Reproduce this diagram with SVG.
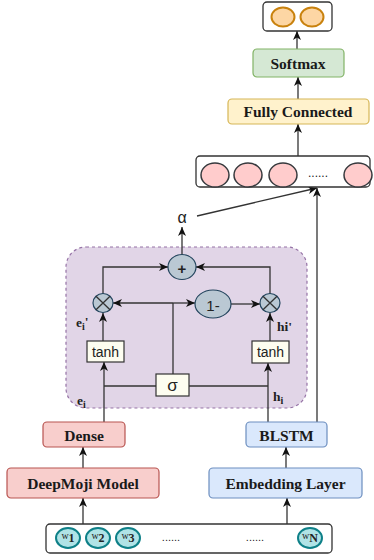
<svg xmlns="http://www.w3.org/2000/svg" width="374" height="560" viewBox="0 0 374 560">
<style>
.b{font-family:"Liberation Serif","Times New Roman",serif;font-weight:bold;font-size:15.5px;fill:#1a1a1a;text-anchor:middle;dominant-baseline:central}
.s{font-family:"Liberation Sans",Arial,sans-serif;fill:#222;text-anchor:middle;dominant-baseline:central}
.lbl{font-family:"Liberation Serif","Times New Roman",serif;font-weight:bold;font-size:13.5px;fill:#222}
.w{font-family:"Liberation Serif","Times New Roman",serif;fill:#222;text-anchor:middle}
.ln{fill:none;stroke:#333;stroke-width:1.3}
.arr{fill:none;stroke:#333;stroke-width:1.3;marker-end:url(#ah)}
.op{fill:#bac8d3;stroke:#23445d;stroke-width:1.2}
.tb{fill:#fdfdf0;stroke:#333;stroke-width:1.2}
.vc{fill:#ffcccc;stroke:#36393d;stroke-width:1.5}
.wc{fill:#b0e3e6;stroke:#0e8088;stroke-width:2}
.oc{fill:#fdd6a4;stroke:#c9820e;stroke-width:2}
</style>
<defs>
<marker id="ah" markerUnits="userSpaceOnUse" markerWidth="10" markerHeight="10" viewBox="0 0 10 8" refX="9" refY="4" orient="auto">
<path d="M0,0 L9,4 L0,8 L2.5,4 z" fill="#111"/>
</marker>
</defs>
<rect width="374" height="560" fill="#fff"/>

<g id="attention-block">
<rect x="66" y="247" width="241" height="161" rx="20" fill="#e1d5e7" stroke="#9673a6" stroke-width="1.2" stroke-dasharray="3,3"/>
</g>

<g id="connectors">
<line class="arr" x1="297" y1="49" x2="297" y2="31"/>
<line class="arr" x1="298" y1="99" x2="298" y2="77"/>
<line class="arr" x1="298" y1="156" x2="298" y2="124"/>
<line class="arr" x1="197" y1="216" x2="317" y2="188"/>
<line class="arr" x1="317" y1="422" x2="317" y2="188"/>
<line class="arr" x1="182" y1="255" x2="182" y2="227"/>
<polyline class="arr" points="103,294 103,267 168,267"/>
<polyline class="arr" points="270,294 270,267 196,267"/>
<line class="arr" x1="173" y1="303" x2="113" y2="303"/>
<line class="arr" x1="173" y1="303" x2="195" y2="303"/>
<line class="ln" x1="173" y1="374" x2="173" y2="303"/>
<line class="arr" x1="231" y1="304" x2="260" y2="304"/>
<line class="arr" x1="103" y1="341" x2="103" y2="313"/>
<line class="arr" x1="270" y1="341" x2="270" y2="313"/>
<line class="arr" x1="104" y1="422" x2="104" y2="362"/>
<line class="arr" x1="268" y1="422" x2="268" y2="363"/>
<line class="ln" x1="104" y1="386" x2="156" y2="386"/>
<line class="ln" x1="189" y1="386" x2="268" y2="386"/>
<line class="arr" x1="83" y1="468" x2="83" y2="447"/>
<line class="arr" x1="286" y1="468" x2="286" y2="447"/>
<line class="arr" x1="83" y1="524" x2="83" y2="498"/>
<line class="arr" x1="287" y1="524" x2="287" y2="498"/>
</g>

<g id="output">
<rect x="263" y="2" width="69" height="29" rx="4" fill="#fff" stroke="#333" stroke-width="1.3"/>
<ellipse class="oc" cx="283" cy="17" rx="11.5" ry="9.5"/>
<ellipse class="oc" cx="312" cy="17" rx="11.5" ry="9.5"/>
</g>

<g id="softmax">
<rect x="253" y="49" width="91" height="28" rx="4" fill="#d5e8d4" stroke="#82b366" stroke-width="1.2"/>
<text class="b" x="298" y="63">Softmax</text>
</g>

<g id="fully-connected">
<rect x="228" y="99" width="141" height="25" rx="4" fill="#fff2cc" stroke="#d6b656" stroke-width="1.2"/>
<text class="b" x="298" y="111.5">Fully Connected</text>
</g>

<g id="vector">
<rect x="196" y="156" width="174" height="31" rx="4" fill="#fff" stroke="#333" stroke-width="1.3"/>
<ellipse class="vc" cx="215" cy="175" rx="14" ry="12"/>
<ellipse class="vc" cx="248" cy="175" rx="14" ry="12"/>
<ellipse class="vc" cx="283" cy="175" rx="14" ry="12"/>
<ellipse class="vc" cx="358" cy="175" rx="14" ry="12"/>
<text class="s" x="318" y="173" font-size="12">......</text>
</g>

<g id="alpha">
<text class="s" x="182" y="217" font-size="16">α</text>
</g>

<g id="plus">
<ellipse class="op" cx="182" cy="267" rx="14" ry="12.5"/>
<text class="s" x="182" y="268" font-size="15" font-weight="bold">+</text>
</g>

<g id="mult-left">
<ellipse class="op" cx="103" cy="303" rx="10" ry="9.5"/>
<path class="ln" d="M96,296.3 L110,309.7 M110,296.3 L96,309.7" stroke="#23445d"/>
</g>

<g id="mult-right">
<ellipse class="op" cx="270" cy="303" rx="10" ry="9.5"/>
<path class="ln" d="M263,296.3 L277,309.7 M277,296.3 L263,309.7" stroke="#23445d"/>
</g>

<g id="one-minus">
<ellipse class="op" cx="213" cy="304" rx="18" ry="14"/>
<text class="s" x="213" y="305" font-size="15">1-</text>
</g>

<g id="sigma">
<rect class="tb" x="156" y="374" width="33" height="22"/>
<text class="s" x="172.5" y="385" font-size="17">σ</text>
</g>

<g id="tanh-left">
<rect class="tb" x="87" y="341" width="37" height="21"/>
<text class="s" x="105.5" y="351.5" font-size="14">tanh</text>
</g>

<g id="tanh-right">
<rect class="tb" x="252" y="341" width="37" height="22"/>
<text class="s" x="270.5" y="352" font-size="14">tanh</text>
</g>

<g id="labels">
<text class="lbl" x="76" y="327">e<tspan font-size="10" dy="3">i</tspan><tspan dy="-4">'</tspan></text>
<text class="lbl" x="277" y="331">hi'</text>
<text class="lbl" x="77" y="405">e<tspan font-size="10" dy="3">i</tspan></text>
<text class="lbl" x="273" y="401">h<tspan font-size="10" dy="3">i</tspan></text>
</g>

<g id="dense">
<rect x="43" y="422" width="82" height="25" rx="4" fill="#f8cecc" stroke="#b85450" stroke-width="1.2"/>
<text class="b" x="84" y="435">Dense</text>
</g>

<g id="blstm">
<rect x="246" y="422" width="81" height="25" rx="4" fill="#dae8fc" stroke="#6c8ebf" stroke-width="1.2"/>
<text class="b" x="286.5" y="435">BLSTM</text>
</g>

<g id="deepmoji">
<rect x="7" y="468" width="152" height="30" rx="4" fill="#f8cecc" stroke="#b85450" stroke-width="1.2"/>
<text class="b" x="83" y="483">DeepMoji Model</text>
</g>

<g id="embedding">
<rect x="209" y="468" width="153" height="30" rx="4" fill="#dae8fc" stroke="#6c8ebf" stroke-width="1.2"/>
<text class="b" x="285.5" y="483">Embedding Layer</text>
</g>

<g id="input">
<rect x="46" y="524" width="286" height="29" rx="4" fill="#fff" stroke="#333" stroke-width="1.3"/>
<ellipse class="wc" cx="68" cy="538" rx="12" ry="10"/>
<ellipse class="wc" cx="98" cy="538" rx="12" ry="10"/>
<ellipse class="wc" cx="128" cy="538" rx="12" ry="10"/>
<ellipse class="wc" cx="310" cy="538" rx="12" ry="10"/>
<text class="w" x="68" y="539"><tspan font-size="10">w</tspan><tspan font-size="12" font-weight="bold" dy="3">1</tspan></text>
<text class="w" x="98" y="539"><tspan font-size="10">w</tspan><tspan font-size="12" font-weight="bold" dy="3">2</tspan></text>
<text class="w" x="128" y="539"><tspan font-size="10">w</tspan><tspan font-size="12" font-weight="bold" dy="3">3</tspan></text>
<text class="w" x="310" y="539"><tspan font-size="10">w</tspan><tspan font-size="12" font-weight="bold" dy="3">N</tspan></text>
<text class="s" x="171" y="537" font-size="11">......</text>
<text class="s" x="255" y="537" font-size="11">......</text>
</g>
</svg>
